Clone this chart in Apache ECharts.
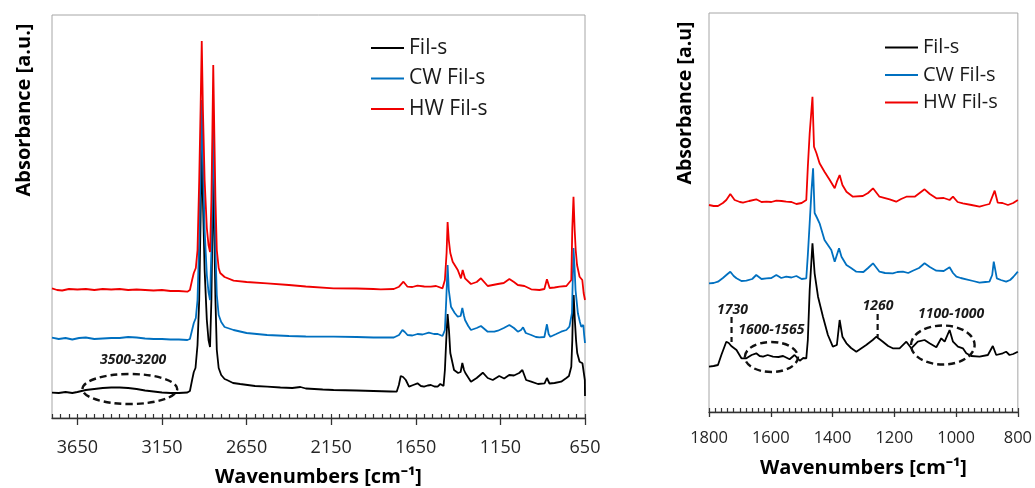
<!DOCTYPE html>
<html><head><meta charset="utf-8">
<script src="https://cdn.jsdelivr.net/npm/echarts@6/dist/echarts.min.js"></script>
<style>html,body{margin:0;padding:0;background:#fff}#c{width:1035px;height:488px}</style>
</head><body><div id="c"></div>
<script>
const seriesNames = ['Fil-s', 'CW Fil-s', 'HW Fil-s'];
const seriesColors = ['#000000', '#0070C0', '#F00000'];
const leftTickLabels = [3650, 3150, 2650, 2150, 1650, 1150, 650];
const rightTickLabels = [1800, 1600, 1400, 1200, 1000, 800];
const leftRange = [650, 3800];
const rightRange = [800, 1800];

// ---- Left panel (wavenumber, absorbance a.u.) ----
const leftFilS = [[3800,25.3],[3760,25],[3720,26],[3680,25],[3650,26],[3600,28],[3550,29],[3500,30],[3450,30.5],[3400,30.5],[3350,30],[3300,29],[3250,27.5],[3200,26.5],[3150,25.5],[3100,25],[3050,25],[3000,25.5],[2985,27],[2972,38],[2962,46],[2952,50],[2940,73],[2930,118],[2922,198],[2915,273],[2908,218],[2898,148],[2885,98],[2875,78],[2866,71],[2858,118],[2852,188],[2847,250],[2841,188],[2834,118],[2826,68],[2815,50],[2800,43],[2780,39],[2766,38],[2730,35],[2688,34],[2600,32],[2529,31.3],[2450,30.5],[2380,30],[2332,31],[2300,29.5],[2200,28.5],[2136,28],[2000,27.5],[1900,27],[1800,26.5],[1763,26.3],[1750,33],[1739,42],[1725,41],[1709,38],[1690,31.3],[1665,33],[1640,34.7],[1620,32],[1601,31.3],[1580,32.5],[1561,33],[1540,31.5],[1521,31.3],[1505,34],[1486,32],[1478,48],[1470,78],[1462,104],[1454,88],[1446,65],[1424,48],[1400,45],[1385,46],[1375,55],[1365,48],[1357,45],[1324,36.3],[1290,40],[1254,45.3],[1225,40],[1195,38],[1157,42],[1128,39.5],[1098,43],[1070,42.5],[1039,45],[1020,48],[1011,50],[998,38],[968,36.3],[928,34],[889,34.7],[875,40],[860,34.5],[830,35],[791,36.3],[760,40],[745,42],[731,51.3],[725,78],[720,118],[717,123],[710,98],[703,78],[696,65],[682,56.3],[665,54.7],[655,53],[651,38],[650,22]];
const leftCWFilS = [[3800,80.3],[3760,79],[3720,80],[3680,78.5],[3640,80],[3600,80.5],[3550,79],[3500,79.5],[3450,80],[3400,80],[3350,81],[3300,80.5],[3250,79.5],[3200,79],[3150,79],[3100,78.5],[3050,78.5],[3000,78],[2985,79],[2972,88],[2962,95],[2950,100],[2940,118],[2930,178],[2922,248],[2915,318],[2908,258],[2898,188],[2885,143],[2875,126],[2866,118],[2858,168],[2852,238],[2847,303],[2841,238],[2834,168],[2826,123],[2815,103],[2800,96],[2780,91],[2727,88],[2650,85],[2529,83],[2400,82],[2300,81.5],[2136,81.3],[2000,81],[1900,80.5],[1857,80.7],[1780,80.5],[1749,83],[1729,88],[1715,86],[1699,83],[1670,82.5],[1640,84],[1610,83.5],[1573,85.3],[1543,84],[1520,84],[1492,82],[1478,88],[1470,118],[1462,153],[1455,128],[1442,111.3],[1420,105],[1402,101.3],[1385,102],[1375,110],[1365,102],[1359,98],[1340,92],[1324,88],[1290,90],[1265,92],[1254,93],[1225,86.3],[1186,86.3],[1165,87.3],[1130,90],[1097,93],[1070,90],[1047,86.3],[1028,88],[1016,90.7],[1000,85],[968,83],[940,81],[919,80.7],[890,81],[875,93.7],[865,84],[855,81.3],[820,84],[791,86.3],[760,88],[742,91.3],[727,105],[718,170],[711,148],[706,128],[692,104.7],[680,96],[672,91.3],[660,93],[655,83],[650,75]];
const leftHWFilS = [[3800,129.7],[3770,128],[3740,127.5],[3700,129],[3650,128.5],[3600,129],[3550,128],[3500,129],[3450,128.5],[3400,129],[3350,128],[3300,128.5],[3250,128],[3200,127.5],[3150,128],[3100,127],[3050,127],[3000,126.3],[2985,128],[2972,138],[2962,145],[2950,150],[2940,168],[2930,238],[2922,308],[2915,377],[2908,308],[2898,238],[2885,190],[2875,173],[2866,166],[2858,218],[2852,288],[2847,353],[2841,288],[2834,218],[2826,168],[2815,150],[2806,145],[2780,141],[2727,137.3],[2650,136],[2529,134.7],[2400,133],[2300,131.5],[2136,129.7],[2000,129.5],[1900,129],[1857,128.7],[1780,129],[1749,131.3],[1723,136.3],[1699,131.3],[1670,131],[1640,132.3],[1600,131.5],[1561,131.3],[1530,132],[1492,129.7],[1478,138],[1468,165],[1462,196],[1455,178],[1446,165],[1432,156.3],[1402,148],[1383,139.7],[1373,148],[1359,139.7],[1324,134],[1290,136],[1265,139.7],[1225,132],[1165,134],[1130,135],[1097,139],[1070,136],[1047,133],[1008,132],[968,128.7],[919,128],[890,129],[875,138.7],[859,130],[830,130.5],[800,131.3],[760,132],[731,138],[725,190],[718,221.3],[711,188],[705,168],[697,153],[682,141.3],[666,138],[658,125],[650,118]];

// ---- Right panel ----
const rightFilS = [[1800,45.3],[1785,46],[1771,47],[1760,57],[1744,70.3],[1736,69],[1728,66],[1711,62],[1695,53.7],[1679,53.7],[1662,57],[1647,58.7],[1636,56],[1625,55.3],[1610,57],[1593,55.3],[1575,55],[1560,56],[1539,52.7],[1523,57],[1506,51.3],[1495,54],[1485,53.7],[1480,72],[1474,122],[1465,168.7],[1458,138.7],[1447,115.3],[1431,95.3],[1415,77],[1399,65.3],[1386,67],[1377,92],[1368,75.3],[1355,68.7],[1340,64],[1323,60.3],[1291,67],[1270,72],[1258,75.3],[1237,70.3],[1220,66],[1205,63.7],[1183,63.7],[1161,70.3],[1145,63.7],[1124,70.3],[1102,72],[1086,68.7],[1064,64.7],[1048,73.7],[1037,70.3],[1021,82],[1010,70.3],[994,65.3],[978,63.7],[967,58.7],[951,56],[924,55.3],[897,57],[881,66],[870,57],[849,58.7],[838,60.3],[827,57],[815,58],[800,60.3]];
const rightCWFilS = [[1800,128.7],[1785,129],[1771,130.3],[1755,134],[1740,138],[1731,140.3],[1720,136],[1711,133.7],[1695,131],[1679,131.3],[1660,133],[1647,137],[1630,133],[1614,133.7],[1598,134],[1582,137],[1566,134],[1550,135.3],[1533,134.5],[1517,136],[1500,133],[1485,133.7],[1480,157],[1474,189],[1468,222],[1463,243.7],[1458,199],[1450,194],[1442,188.7],[1426,172],[1415,167],[1404,162],[1393,150.3],[1379,163.7],[1371,155.3],[1355,147],[1340,144],[1323,140.3],[1300,140],[1285,144],[1269,148.7],[1248,140.3],[1230,139],[1205,138.7],[1190,140],[1172,140.3],[1155,139],[1140,141.3],[1120,144],[1102,148.7],[1085,145],[1064,141.3],[1040,141],[1021,144.7],[1010,139],[999,135.3],[985,134],[967,132.7],[945,131],[924,129.3],[905,130],[892,130.3],[883,137],[878,150.3],[868,133.7],[855,132],[838,130.3],[825,132],[815,135],[800,140.3]];
const rightHWFilS = [[1800,207],[1785,206],[1771,206],[1755,209],[1744,212],[1731,218],[1717,212],[1700,210],[1690,209.3],[1670,211],[1647,212.7],[1630,210],[1614,210.3],[1598,210],[1582,211.3],[1565,211],[1550,210.3],[1533,210],[1517,208],[1500,209],[1485,212],[1480,245.3],[1474,278.7],[1465,315.3],[1460,265.3],[1452,258.7],[1442,248.7],[1426,240.3],[1409,232],[1393,223.7],[1386,230.3],[1377,237],[1368,227],[1355,220.3],[1334,215.3],[1302,216],[1285,219],[1269,223.7],[1248,215.3],[1215,212.7],[1194,210.3],[1178,213],[1161,215.3],[1134,215.3],[1102,222.7],[1085,218],[1064,213.7],[1040,214],[1021,212],[1010,215.3],[995,210],[978,208.7],[950,207],[924,205.3],[905,207],[892,208],[875,221.3],[865,209.3],[850,209],[832,207],[815,209],[800,212]];

const FONT = '"Open Sans", "Liberation Sans", sans-serif';
const chart = echarts.init(document.getElementById('c'), null, {renderer: 'canvas'});

const L0 = leftRange[0];
const shiftL = arr => arr.map(p => [p[0] - L0, p[1]]);

function mkSeries(name, i, data, xi, yi) {
  return {
    name, type: 'line', xAxisIndex: xi, yAxisIndex: yi, data,
    showSymbol: false, symbol: 'none', color: seriesColors[i],
    lineStyle: {width: 1.8, color: seriesColors[i]}, silent: true, z: 2 + i
  };
}

const tickColor = '#333333';
const gL = {left: 52, top: 15, width: 533, height: 403};
const gR = {left: 709, top: 13, width: 309, height: 399};
const option = {
  animation: false,
  backgroundColor: '#ffffff',
  grid: [
    Object.assign({show: true, borderColor: '#a6a6a6', borderWidth: 1}, gL),
    Object.assign({show: true, borderColor: '#a6a6a6', borderWidth: 1}, gR),
    Object.assign({show: false}, gL),
    Object.assign({show: false}, gR)
  ],
  xAxis: [
    {type: 'value', gridIndex: 0, position: 'bottom', inverse: true, min: 0, max: leftRange[1] - L0, interval: 500,
     axisLine: {show: true, onZero: false, lineStyle: {color: tickColor, width: 1.3}},
     axisTick: {show: true, inside: false, length: 7, lineStyle: {color: tickColor, width: 1.3}},
     axisLabel: {show: true, showMaxLabel: false, margin: 21, fontFamily: FONT, fontSize: 18, color: '#262626',
       formatter: v => { const w = v + L0; return leftTickLabels.indexOf(w) >= 0 ? String(w) : ''; }},
     splitLine: {show: false}},
    {type: 'value', gridIndex: 2, position: 'bottom', inverse: true, min: 0, max: leftRange[1] - L0, interval: 50,
     axisLine: {show: false, onZero: false}, axisLabel: {show: false},
     axisTick: {show: true, inside: true, length: 4, lineStyle: {color: tickColor, width: 1.2}},
     splitLine: {show: false}},
    {type: 'value', gridIndex: 1, position: 'bottom', inverse: true, min: rightRange[0], max: rightRange[1], interval: 200,
     axisLine: {show: true, onZero: false, lineStyle: {color: tickColor, width: 1.3}},
     axisTick: {show: true, inside: false, length: 5, lineStyle: {color: tickColor, width: 1.3}},
     axisLabel: {show: true, margin: 18, fontFamily: FONT, fontSize: 16.5, color: '#262626',
       formatter: v => rightTickLabels.indexOf(v) >= 0 ? String(v) : ''},
     splitLine: {show: false}},
    {type: 'value', gridIndex: 3, position: 'bottom', inverse: true, min: rightRange[0], max: rightRange[1], interval: 20,
     axisLine: {show: false, onZero: false}, axisLabel: {show: false},
     axisTick: {show: true, inside: true, length: 4, lineStyle: {color: tickColor, width: 1.2}},
     splitLine: {show: false}}
  ],
  yAxis: [
    {type: 'value', gridIndex: 0, min: 0, max: 403, show: false},
    {type: 'value', gridIndex: 1, min: 0, max: 399, show: false},
    {type: 'value', gridIndex: 2, min: 0, max: 403, show: false},
    {type: 'value', gridIndex: 3, min: 0, max: 399, show: false}
  ],
  legend: [
    {data: seriesNames, orient: 'vertical', left: 366, top: 32, itemWidth: 33, itemHeight: 2, icon: 'rect',
     itemGap: 8.5, selectedMode: false, textStyle: {fontFamily: FONT, fontSize: 21, lineHeight: 22, color: '#1a1a1a'}},
    {data: seriesNames, orient: 'vertical', left: 880, top: 32, itemWidth: 33, itemHeight: 2, icon: 'rect',
     itemGap: 6.5, selectedMode: false, textStyle: {fontFamily: FONT, fontSize: 20, lineHeight: 21, color: '#1a1a1a'}}
  ],
  series: [
    mkSeries(seriesNames[0], 0, shiftL(leftFilS), 0, 0),
    mkSeries(seriesNames[1], 1, shiftL(leftCWFilS), 0, 0),
    mkSeries(seriesNames[2], 2, shiftL(leftHWFilS), 0, 0),
    mkSeries(seriesNames[0], 0, rightFilS, 2, 1),
    mkSeries(seriesNames[1], 1, rightCWFilS, 2, 1),
    mkSeries(seriesNames[2], 2, rightHWFilS, 2, 1)
  ]
};
chart.setOption(option);

// ---- annotations (positioned from data coordinates) ----
const toPxL = (w, v) => chart.convertToPixel({seriesIndex: 0}, [w - L0, v]);
const toPxR = (w, v) => chart.convertToPixel({seriesIndex: 3}, [w, v]);
const labelFont = 'italic bold 14px ' + FONT;
const dash = {stroke: '#111', lineWidth: 2.4, lineDash: [7, 4], fill: null};

function ellipse(toPx, w1, w2, v1, v2) {
  const a = toPx(w1, v1), b = toPx(w2, v2);
  return {type: 'ellipse', silent: true, z: 20,
    shape: {cx: (a[0] + b[0]) / 2, cy: (a[1] + b[1]) / 2, rx: Math.abs(b[0] - a[0]) / 2, ry: Math.abs(b[1] - a[1]) / 2},
    style: Object.assign({}, dash)};
}
function label(toPx, w, v, text) {
  const p = toPx(w, v);
  return {type: 'text', silent: true, z: 20, x: p[0], y: p[1],
    style: {text, font: labelFont, fill: '#1a1a1a', textAlign: 'center', textVerticalAlign: 'middle'}};
}
function vline(toPx, w, v1, v2) {
  const a = toPx(w, v1), b = toPx(w, v2);
  return {type: 'line', silent: true, z: 20, shape: {x1: a[0], y1: a[1], x2: b[0], y2: b[1]},
    style: {stroke: '#111', lineWidth: 2.2, lineDash: [6, 4]}};
}
function title(x, y, text, rot, size) {
  return {type: 'text', silent: true, z: 20, x, y, rotation: rot,
    style: {text, font: 'bold ' + size + 'px ' + FONT, fill: '#000', textAlign: 'center', textVerticalAlign: 'middle'}};
}

const graphics = [
  ellipse(toPxL, 3620, 3060, 14, 44),
  label(toPxL, 3320, 58, '3500-3200'),
  label(toPxR, 1724, 102, '1730'),
  vline(toPxR, 1727, 95, 70),
  label(toPxR, 1598, 82, '1600-1565'),
  ellipse(toPxR, 1684, 1512, 40, 70),
  label(toPxR, 1253, 106, '1260'),
  vline(toPxR, 1254, 98, 75),
  label(toPxR, 1016, 98, '1100-1000'),
  ellipse(toPxR, 1146, 940, 47.5, 86.5),
  title(24, 110, 'Absorbance [a.u.]', Math.PI / 2, 20),
  title(685, 103, 'Absorbance [a.u]', Math.PI / 2, 19.5),
  title(318.5, 477, 'Wavenumbers [cm\u207B\u00B9]', 0, 20),
  title(863.5, 468, 'Wavenumbers [cm\u207B\u00B9]', 0, 20)
];
chart.setOption({graphic: {elements: graphics}});
</script>
</body></html>
